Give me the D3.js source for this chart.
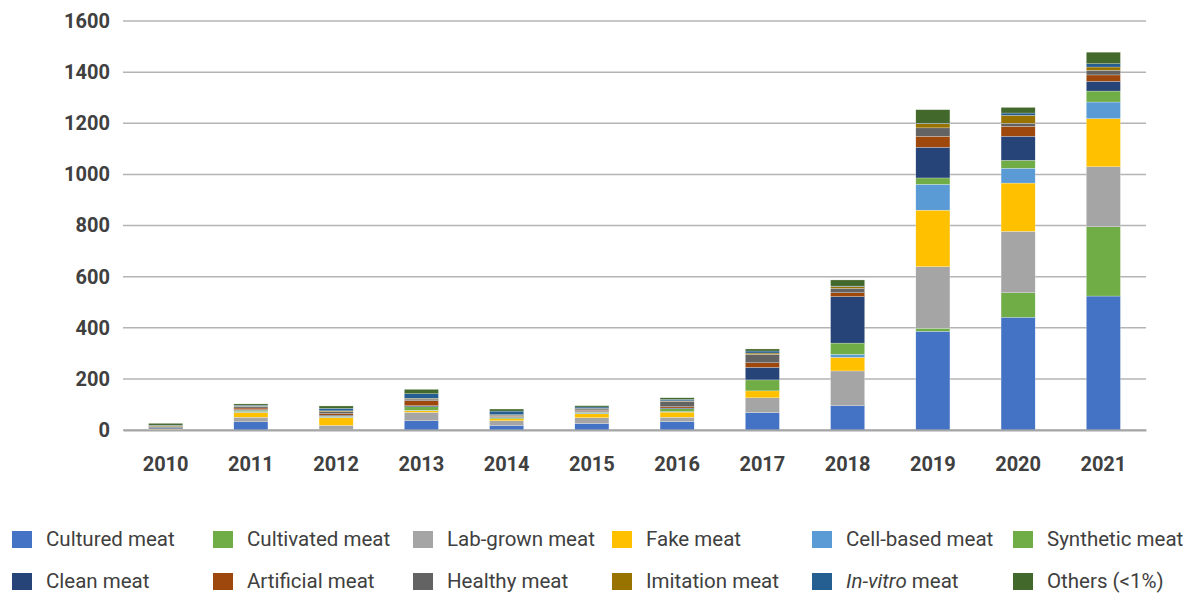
<!DOCTYPE html>
<html>
<head>
<meta charset="utf-8">
<script src="https://cdn.jsdelivr.net/npm/d3@7"></script>
<style>
  body { margin: 0; background: #fff; }
  svg text { font-family: Roboto, "Open Sans", sans-serif; }
</style>
</head>
<body>
<div id="chart"></div>
<script>
const years = ["2010","2011","2012","2013","2014","2015","2016","2017","2018","2019","2020","2021"];
const seriesNames = ["Cultured meat","Cultivated meat","Lab-grown meat","Fake meat","Cell-based meat","Synthetic meat",
                     "Clean meat","Artificial meat","Healthy meat","Imitation meat","In-vitro meat","Others (<1%)"];
const colors = ["#4472c4","#70ad47","#a5a5a5","#ffc000","#5b9bd5","#70ad47",
                "#264478","#9e480e","#636363","#997300","#255e91","#43682b"];

// values per series, one per year
const cultured   = [0, 32, 0, 36, 17, 25, 33, 68, 95, 386, 441, 524];
const cultivated = [0, 0, 0, 0, 0, 0, 0, 0, 0, 12, 96, 271];
const labGrown   = [3, 18, 18, 33, 19, 23, 17, 58, 136, 241, 240, 235];
const fake       = [2, 19, 31, 6, 8, 16, 20, 27, 53, 221, 189, 188];
const cellBased  = [0, 3, 2, 2, 0, 3, 2, 0, 12, 101, 58, 65];
const synthetic  = [0, 5, 3, 14, 5, 3, 11, 43, 44, 25, 31, 43];
const clean      = [5, 3, 4, 4, 2, 3, 3, 49, 182, 120, 94, 38];
const artificial = [0, 6, 6, 20, 3, 4, 5, 18, 15, 43, 39, 25];
const healthy    = [4, 5, 8, 6, 4, 5, 21, 33, 17, 33, 12, 18];
const imitation  = [3, 2, 3, 3, 2, 2, 2, 5, 7, 16, 31, 13];
const inVitro    = [2, 4, 10, 18, 14, 6, 6, 8, 2, 2, 9, 13];
const others     = [7, 5, 9, 17, 8, 5, 6, 8, 24, 53, 22, 45];

const yTicks = [0, 200, 400, 600, 800, 1000, 1200, 1400, 1600];

const allSeries = [cultured, cultivated, labGrown, fake, cellBased, synthetic,
                   clean, artificial, healthy, imitation, inVitro, others];

const width = 1192, height = 596;
const margin = {top: 21, right: 46, bottom: 166, left: 123};
const innerW = width - margin.left - margin.right;
const innerH = height - margin.top - margin.bottom;

const table = years.map((yr, i) => {
  const row = {year: yr};
  seriesNames.forEach((s, j) => row[s] = allSeries[j][i]);
  return row;
});
const stacked = d3.stack().keys(seriesNames)(table);

const svg = d3.select("#chart").append("svg")
  .attr("width", width)
  .attr("height", height);

const g = svg.append("g")
  .attr("transform", `translate(${margin.left},${margin.top})`);

const x = d3.scaleBand().domain(years).range([0, innerW]).paddingInner(0.6).paddingOuter(0.3);
const y = d3.scaleLinear().domain([0, 1600]).range([innerH, 0]);

// grid lines
g.append("g")
  .selectAll("line")
  .data(yTicks)
  .join("line")
    .attr("x1", 0)
    .attr("x2", innerW)
    .attr("y1", d => y(d))
    .attr("y2", d => y(d))
    .attr("stroke", "#b4b4b4")
    .attr("stroke-width", 1.5);

// Y axis labels
const yAxis = g.append("g")
  .call(d3.axisLeft(y).tickValues(yTicks).tickFormat(d3.format("d")).tickSize(0).tickPadding(13));
yAxis.select(".domain").remove();
yAxis.selectAll("text")
  .style("font-size", "20px")
  .style("font-weight", "bold")
  .attr("fill", "#404040");

// bars
g.append("g")
  .selectAll("g")
  .data(stacked)
  .join("g")
    .attr("fill", (d, i) => colors[i])
  .selectAll("rect")
  .data(d => d)
  .join("rect")
    .attr("x", d => x(d.data.year))
    .attr("width", x.bandwidth())
    .attr("y", d => y(d[1]))
    .attr("height", d => y(d[0]) - y(d[1]))
    .attr("stroke", "#ffffff")
    .attr("stroke-width", 0.4)
    .attr("stroke-opacity", 0.6);

// X axis
const xAxis = g.append("g")
  .attr("transform", `translate(0,${innerH})`)
  .call(d3.axisBottom(x).tickSize(0).tickPadding(27));
xAxis.select(".domain").attr("stroke", "#a6a6a6").attr("stroke-width", 2);
xAxis.selectAll("text")
  .style("font-size", "20px")
  .style("font-weight", "bold")
  .attr("fill", "#404040");

// legend
const legendX = [12, 213, 413, 612, 812, 1013];
const legendY = [539, 581];
const legend = svg.append("g")
  .selectAll("g")
  .data(seriesNames)
  .join("g")
    .attr("transform", (d, i) => `translate(${legendX[i % 6]},${legendY[Math.floor(i / 6)]})`);

legend.append("rect")
  .attr("x", 0)
  .attr("y", -8)
  .attr("width", 20)
  .attr("height", 17)
  .attr("fill", (d, i) => colors[i]);

legend.append("text")
  .attr("x", 34)
  .attr("y", 0)
  .attr("dy", "0.35em")
  .style("font-size", "20.5px")
  .attr("fill", "#404040")
  .each(function(d) {
    const t = d3.select(this);
    if (d === "In-vitro meat") {
      t.append("tspan").style("font-style", "italic").text("In-vitro");
      t.append("tspan").text(" meat");
    } else {
      t.text(d);
    }
  });
</script>
</body>
</html>
